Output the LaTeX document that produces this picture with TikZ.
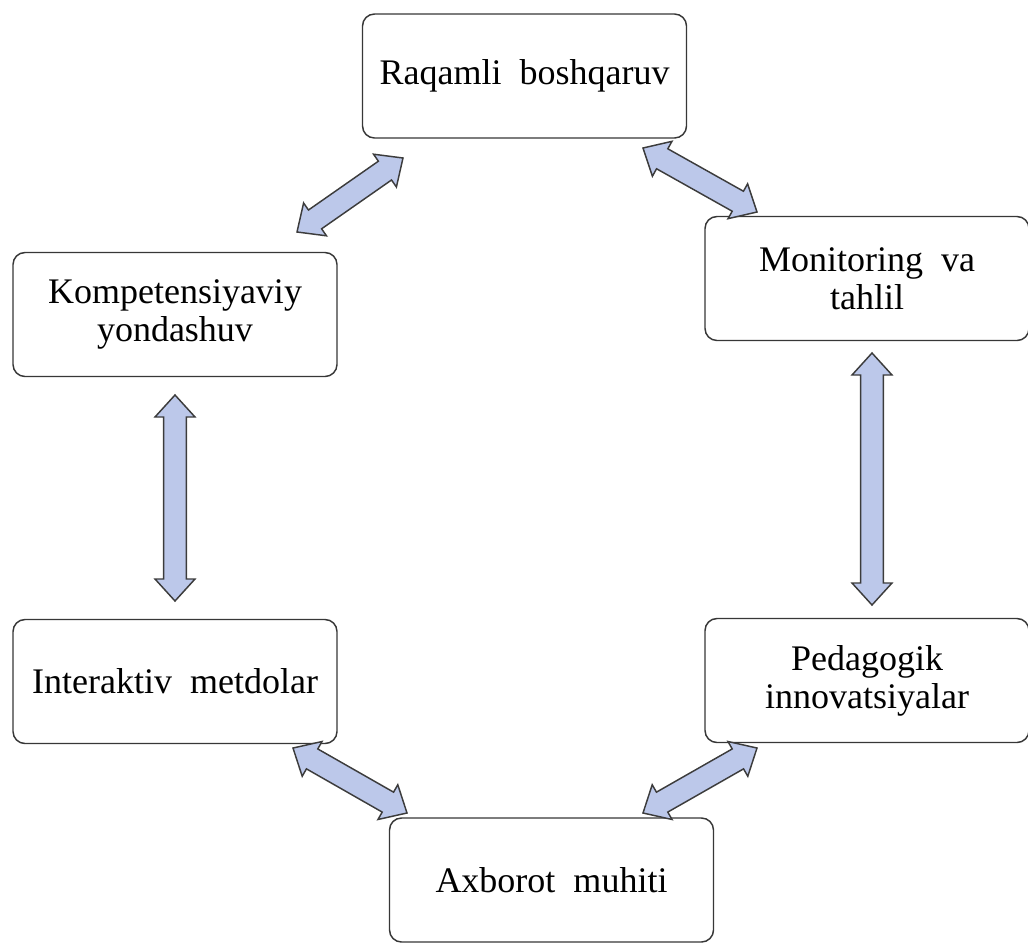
\documentclass[tikz,border=0pt]{standalone}
\usepackage{fontspec}
\setmainfont[WordSpace=2.0]{Liberation Serif}
\usetikzlibrary{calc}
\definecolor{arrfill}{RGB}{188,200,234}
\definecolor{arrline}{RGB}{60,60,60}
\definecolor{boxline}{RGB}{55,55,55}
\newcommand\arrHL{16.5pt}
\newcommand\arrHW{15pt}
\newcommand\arrSW{8.6pt}
\newcommand\dblarr[2]{%
  \draw[arr] (#1)
   -- ($($(#1)!\arrHL!(#2)$)!\arrHW!90:(#2)$)
   -- ($($(#1)!\arrHL!(#2)$)!\arrSW!90:(#2)$)
   -- ($($(#2)!\arrHL!(#1)$)!\arrSW!-90:(#1)$)
   -- ($($(#2)!\arrHL!(#1)$)!\arrHW!-90:(#1)$)
   -- (#2)
   -- ($($(#2)!\arrHL!(#1)$)!\arrHW!90:(#1)$)
   -- ($($(#2)!\arrHL!(#1)$)!\arrSW!90:(#1)$)
   -- ($($(#1)!\arrHL!(#2)$)!\arrSW!-90:(#2)$)
   -- ($($(#1)!\arrHL!(#2)$)!\arrHW!-90:(#2)$)
   -- cycle;}
\begin{document}
\begin{tikzpicture}[x=0.75pt,y=-0.75pt,
  box/.style={draw=boxline, line width=1.1pt, rounded corners=9pt, fill=white,
    minimum width=243pt, minimum height=93pt, inner sep=0pt, align=center,
    font=\fontsize{27}{28.5}\selectfont},
  arr/.style={draw=arrline, line width=1.1pt, fill=arrfill, line join=miter}]
\useasboundingbox (0,0) rectangle (1028,943);
\node[box] (R) at (524.5,76) {Raqamli boshqaruv};
\node[box] (M) at (867,278.5) {Monitoring va\\tahlil};
\node[box] (K) at (175,314.5) {Kompetensiyaviy\\yondashuv};
\node[box] (I) at (175,681.5) {Interaktiv metdolar};
\node[box] (P) at (867,680.5) {Pedagogik\\innovatsiyalar};
\node[box] (A) at (551.5,880) {Axborot muhiti};
\coordinate (a1s) at (297,232); \coordinate (a1e) at (403,158);
\coordinate (a2s) at (643,148); \coordinate (a2e) at (757,212);
\coordinate (a3s) at (175,395); \coordinate (a3e) at (175,601);
\coordinate (a4s) at (872,353); \coordinate (a4e) at (872,605);
\coordinate (a5s) at (293,748); \coordinate (a5e) at (407,813);
\coordinate (a6s) at (643,813); \coordinate (a6e) at (757,748);
\dblarr{a1s}{a1e}
\dblarr{a2s}{a2e}
\dblarr{a3s}{a3e}
\dblarr{a4s}{a4e}
\dblarr{a5s}{a5e}
\dblarr{a6s}{a6e}
\end{tikzpicture}
\end{document}
